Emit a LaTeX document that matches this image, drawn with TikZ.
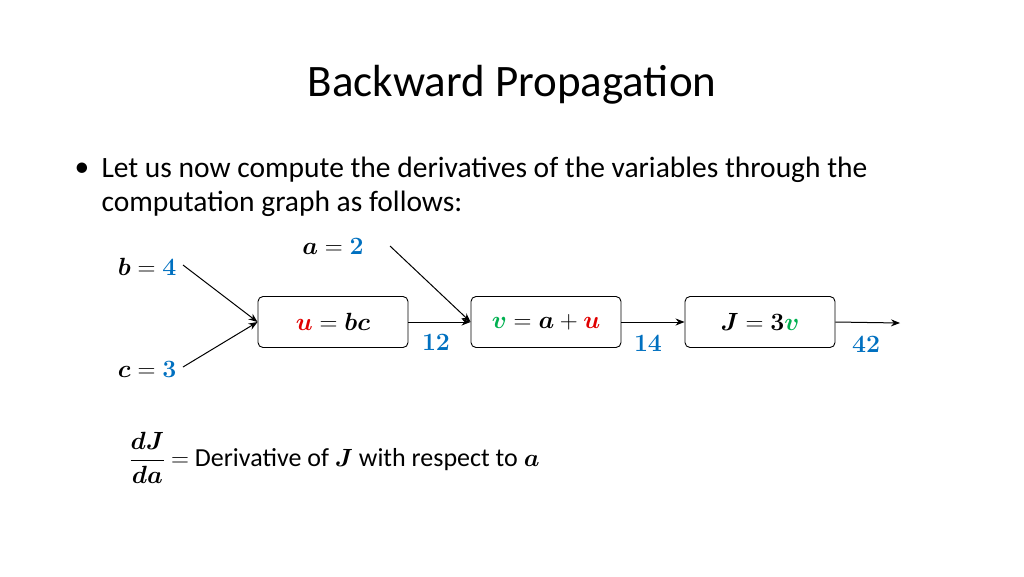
\documentclass[tikz,border=0pt]{standalone}
\usepackage{amsmath,bm}
\usepackage{fontspec}
\setmainfont{Carlito}
\definecolor{mblue}{HTML}{0070C0}
\definecolor{mred}{HTML}{E00000}
\definecolor{mgreen}{HTML}{00B050}
\usetikzlibrary{arrows.meta}
\begin{document}
\begin{tikzpicture}[x=1pt,y=-1pt,
  opbox/.style={draw,line width=0.9pt,rounded corners=5pt,minimum width=150pt,minimum height=51pt,font=\fontsize{27}{30}\selectfont},
  lbl/.style={font=\fontsize{27}{30}\selectfont},
  conn/.style={line width=1pt},
  arr/.style={conn,-{Stealth[length=9pt,width=7pt]}}]
\useasboundingbox (0,0) rectangle (1024,576);
\node[font=\fontsize{45}{52}\selectfont] (title) at (512,85) {Backward Propagation};
\node[anchor=north west,font=\fontsize{29.5}{34}\selectfont,align=left] (txt) at (98,153)
 {Let us now compute the derivatives of the variables through the\\
  computation graph as follows:};
\node[font=\fontsize{29.5}{34}\selectfont] (bul) at (82,170) {\textbullet};
\node[opbox] (u) at (333,322) {${\color{mred}\bm{u}} = \bm{bc}$};
\node[opbox] (v) at (546,322) {${\color{mgreen}\bm{v}} = \bm{a} + {\color{mred}\bm{u}}$};
\node[opbox] (J) at (760,322) {$\bm{J} = \bm{3}{\color{mgreen}\bm{v}}$};
\node[lbl,anchor=east] (b) at (180,267) {$\bm{b} = {\color{mblue}\bm{4}}$};
\node[lbl,anchor=east] (c) at (180,369) {$\bm{c} = {\color{mblue}\bm{3}}$};
\node[lbl] (a) at (333,246) {$\bm{a} = {\color{mblue}\bm{2}}$};
\coordinate (aend) at (390,246);
\coordinate (bend) at (183,265);
\coordinate (cend) at (183,367);
\coordinate (out) at (900,323);
\draw[arr] (bend) -- (u.west);
\draw[arr] (cend) -- (u.west);
\draw[arr] (aend) -- (v.west);
\draw[arr] (u.east) -- (v.west);
\draw[arr] (v.east) -- (J.west);
\draw[arr] (J.east) -- (out);
\node[lbl,text=mblue] (n12) at (436,342) {$\bm{12}$};
\node[lbl,text=mblue] (n14) at (648,343) {$\bm{14}$};
\node[lbl,text=mblue] (n42) at (866,344) {$\bm{42}$};
\node[anchor=west,font=\fontsize{26}{30}\selectfont] (def) at (126,458)
 {$\dfrac{\bm{dJ}}{\bm{da}}$ $=$ Derivative of $\bm{J}$ with respect to $\bm{a}$};
\end{tikzpicture}
\end{document}
